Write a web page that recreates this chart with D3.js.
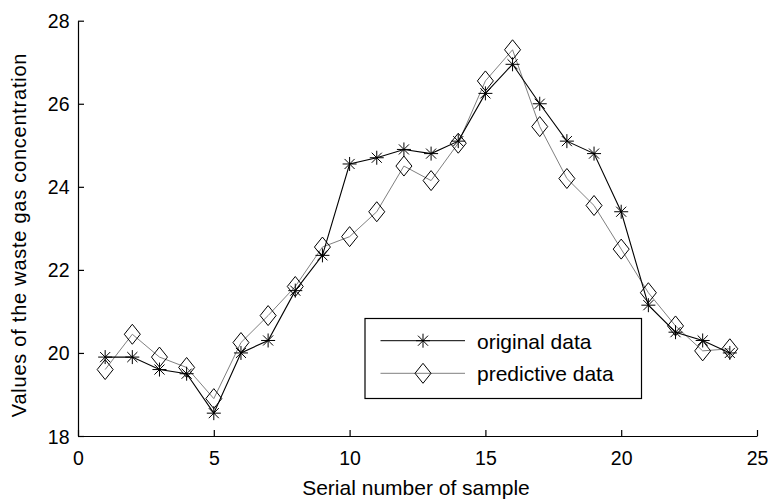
<!DOCTYPE html>
<html>
<head>
<meta charset="utf-8">
<script src="https://cdn.jsdelivr.net/npm/d3@7"></script>
<style>
  html, body { margin: 0; padding: 0; background: #fff; }
  svg { display: block; font-family: "Liberation Sans", Arial, sans-serif; }
</style>
</head>
<body>
<svg id="chart" width="768" height="499"></svg>
<script>
const samples = d3.range(1, 25);
const originalData = [19.9, 19.9, 19.6, 19.5, 18.55, 20.0, 20.3, 21.5, 22.35, 24.55, 24.7, 24.9,
                      24.8, 25.1, 26.25, 26.95, 26.0, 25.1, 24.8, 23.4, 21.15, 20.5, 20.3, 20.0];
const predictiveData = [19.6, 20.45, 19.9, 19.65, 18.9, 20.25, 20.9, 21.6, 22.55, 22.8, 23.4, 24.5,
                        24.15, 25.05, 26.55, 27.3, 25.45, 24.2, 23.55, 22.5, 21.45, 20.65, 20.05, 20.1];
const xTicks = [0, 5, 10, 15, 20, 25];
const yTicks = [18, 20, 22, 24, 26, 28];
const seriesNames = ["original data", "predictive data"];

const svg = d3.select("#chart");
const x = d3.scaleLinear().domain([0, 25]).range([78, 757]);
const y = d3.scaleLinear().domain([18, 28]).range([436, 20.7]);

// axes
const xAxis = d3.axisBottom(x).tickValues(xTicks).tickSize(-6).tickSizeOuter(0);
const yAxis = d3.axisLeft(y).tickValues(yTicks).tickSize(-6).tickSizeOuter(0);

const gx = svg.append("g").attr("transform", "translate(0,436)").call(xAxis);
const gy = svg.append("g").attr("transform", "translate(78,0)").call(yAxis);
[gx, gy].forEach(g => {
  g.select(".domain").attr("stroke", "#000").attr("stroke-width", 1.2);
  g.selectAll(".tick line").attr("stroke", "#000").attr("stroke-width", 1.2);
  g.selectAll(".tick text").attr("fill", "#000").style("font-size", "19.5px")
    .style("font-family", "'Liberation Sans', Arial, sans-serif");
});
gx.selectAll(".tick text").attr("dy", null).attr("y", 29);
gy.selectAll(".tick text").attr("x", -8.5).attr("dy", "0.36em");

// axis labels
svg.append("text").attr("x", 416).attr("y", 495).attr("text-anchor", "middle")
  .style("font-size", "21px").text("Serial number of sample");
svg.append("text").attr("transform", "translate(26,235) rotate(-90)").attr("text-anchor", "middle")
  .style("font-size", "20px").style("letter-spacing", "0.75px")
  .text("Values of the waste gas concentration");

const line = d3.line().x((d, i) => x(samples[i])).y(d => y(d));

// star marker path
function starPath(cx, cy, r) {
  const d = r * 0.72;
  return `M${cx - r},${cy}L${cx + r},${cy}M${cx},${cy - r}L${cx},${cy + r}` +
         `M${cx - d},${cy - d}L${cx + d},${cy + d}M${cx - d},${cy + d}L${cx + d},${cy - d}`;
}
function diamondPath(cx, cy, w, h) {
  return `M${cx},${cy - h}L${cx + w},${cy}L${cx},${cy + h}L${cx - w},${cy}Z`;
}

// predictive line (gray)
svg.append("path").datum(predictiveData).attr("d", line)
  .attr("fill", "none").attr("stroke", "#808080").attr("stroke-width", 1);
// original line (black)
svg.append("path").datum(originalData).attr("d", line)
  .attr("fill", "none").attr("stroke", "#000").attr("stroke-width", 1.1);

// diamond markers
svg.append("g").selectAll("path").data(predictiveData).join("path")
  .attr("d", (d, i) => diamondPath(x(samples[i]), y(d), 8, 10))
  .attr("fill", "none").attr("stroke", "#000").attr("stroke-width", 1);

// star markers
svg.append("g").selectAll("path").data(originalData).join("path")
  .attr("d", (d, i) => starPath(x(samples[i]), y(d), 7))
  .attr("fill", "none").attr("stroke", "#000").attr("stroke-width", 1);

// legend
const leg = svg.append("g");
leg.append("rect").attr("x", 365).attr("y", 318.5).attr("width", 276.5).attr("height", 80)
  .attr("fill", "#fff").attr("stroke", "#000").attr("stroke-width", 1.2);
const legY = [340.7, 373.3];
const legStroke = ["#000", "#808080"];
seriesNames.forEach((name, i) => {
  leg.append("line").attr("x1", 380.5).attr("x2", 465).attr("y1", legY[i]).attr("y2", legY[i])
    .attr("stroke", legStroke[i]).attr("stroke-width", 1);
  leg.append("path")
    .attr("d", i === 0 ? starPath(423, legY[i], 7) : diamondPath(423, legY[i], 8, 10))
    .attr("fill", "none").attr("stroke", "#000").attr("stroke-width", 1);
  leg.append("text").attr("x", 477).attr("y", legY[i] + 8)
    .style("font-size", "21px").text(name);
});
</script>
</body>
</html>
